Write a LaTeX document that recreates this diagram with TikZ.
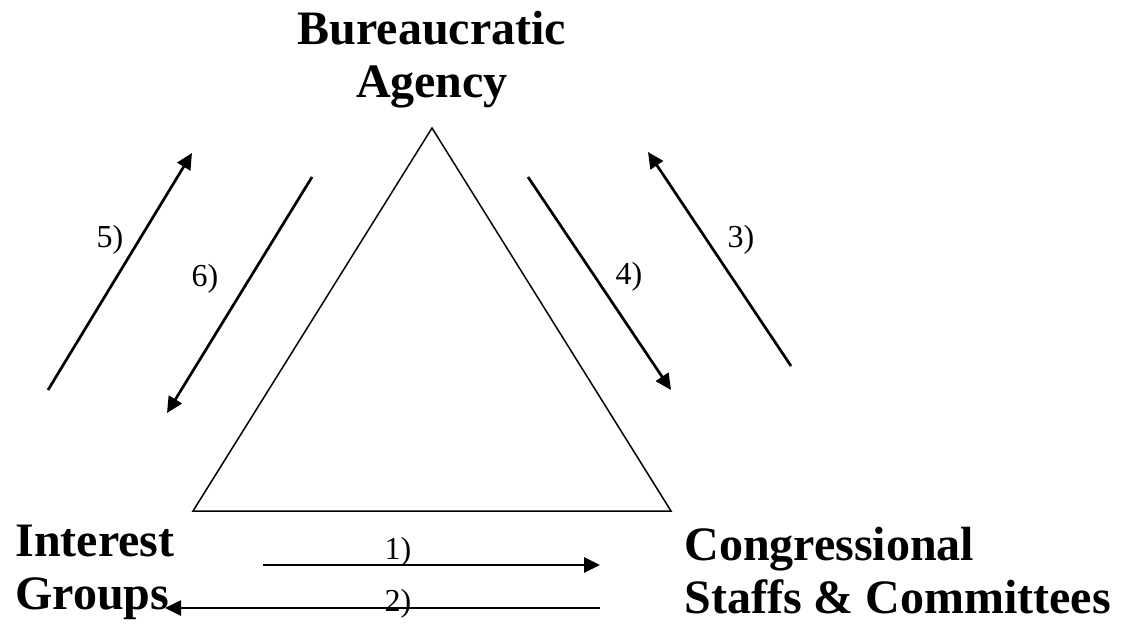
\documentclass[tikz,border=0pt]{standalone}
\usepackage{fontspec}
\setmainfont{Liberation Serif}
\usetikzlibrary{arrows.meta}

\begin{document}
\begin{tikzpicture}[
    x=0.5pt, y=-0.5pt,
    actor/.style={font=\fontsize{24}{26.5}\selectfont\bfseries, inner sep=0pt,
        align=left},
    tag/.style={font=\fontsize{16}{18}\selectfont, inner sep=0pt},
    flow/.style={line width=1.35pt, -{Triangle[length=8pt,width=7.5pt]}},
    side/.style={line width=0.75pt, line join=miter}
]
\useasboundingbox (0,0) rectangle (1127,643);

\node (Agency) [actor, align=center] at (432,60) {Bureaucratic\\Agency};
\node (Interest) [actor, anchor=west] at (15,572) {Interest\\Groups};
\node (Congress) [actor, anchor=west] at (684,571) {Congressional\\Staffs \& Committees};

\coordinate (Apex) at (432,128);
\coordinate (BaseLeft) at (193,511);
\coordinate (BaseRight) at (671,511);
\draw [side] (Apex) -- (BaseLeft) -- (BaseRight) -- cycle;

\coordinate (Tail01) at (263,565);
\coordinate (Head01) at (600,565);
\coordinate (Tail02) at (600,608);
\coordinate (Head02) at (165,608);
\coordinate (Tail03) at (791,366);
\coordinate (Head03) at (648,152);
\coordinate (Tail04) at (528,177);
\coordinate (Head04) at (671,390);
\coordinate (Tail05) at (48,390);
\coordinate (Head05) at (192,153);
\coordinate (Tail06) at (312,177);
\coordinate (Head06) at (167,413);

\draw [flow] (Tail01) -- (Head01);
\draw [flow] (Tail02) -- (Head02);
\draw [flow] (Tail03) -- (Head03);
\draw [flow] (Tail04) -- (Head04);
\draw [flow] (Tail05) -- (Head05);
\draw [flow] (Tail06) -- (Head06);

\node (Label01) [tag] at (398,552) {1)};
\node (Label02) [tag] at (398,604) {2)};
\node (Label03) [tag] at (741,240) {3)};
\node (Label04) [tag] at (629,277) {4)};
\node (Label05) [tag] at (110,240) {5)};
\node (Label06) [tag] at (205,279) {6)};

\end{tikzpicture}
\end{document}
